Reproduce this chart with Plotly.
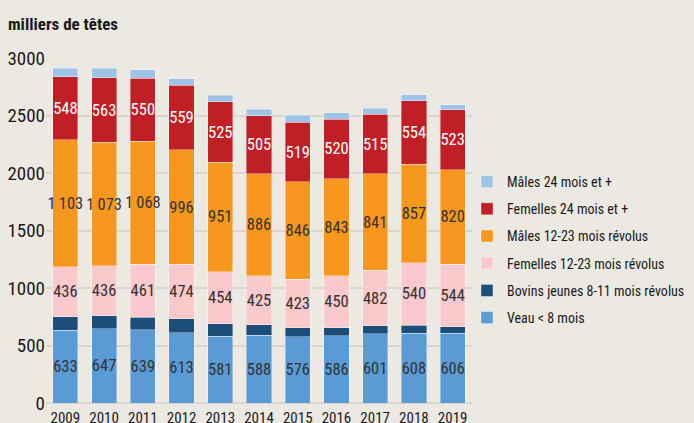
import plotly.graph_objects as go

# ------------------------------------------------------------------
# DATA
# ------------------------------------------------------------------
years = ['2009', '2010', '2011', '2012', '2013', '2014', '2015', '2016', '2017', '2018', '2019']

veau = [633, 647, 639, 613, 581, 588, 576, 586, 601, 608, 606]
bovins_jeunes = [116, 110, 107, 119, 107, 94, 78, 70, 70, 70, 58]
femelles_12_23 = [436, 436, 461, 474, 454, 425, 423, 450, 482, 540, 544]
males_12_23 = [1103, 1073, 1068, 996, 951, 886, 846, 843, 841, 857, 820]
femelles_24 = [548, 563, 550, 559, 525, 505, 519, 520, 515, 554, 523]
males_24 = [75, 84, 73, 58, 58, 55, 61, 55, 52, 52, 44]

y_ticks = [0, 500, 1000, 1500, 2000, 2500, 3000]

font_narrow = 'Roboto Condensed, Liberation Sans Narrow, sans-serif'


def fmt(values):
    return ['{:,}'.format(v).replace(',', '\u2009') for v in values]


# bottom to top
series = [
    ('Veau < 8 mois', veau, '#5B9BD5', '#333333', True),
    ('Bovins jeunes 8-11 mois révolus', bovins_jeunes, '#1D4E79', '#333333', False),
    ('Femelles 12-23 mois révolus', femelles_12_23, '#F9C9CB', '#333333', True),
    ('Mâles 12-23 mois révolus', males_12_23, '#F7971E', '#333333', True),
    ('Femelles 24 mois et +', femelles_24, '#C11F26', '#FFFFFF', True),
    ('Mâles 24 mois et +', males_24, '#9DC3E6', '#333333', False),
]

fig = go.Figure()

for i, (name, vals, color, txtcolor, labelled) in enumerate(series):
    fig.add_trace(go.Bar(
        x=years,
        y=vals,
        name=name,
        legendgroup='g%d' % i,
        legendrank=100 - i * 10,
        marker=dict(color=color, line=dict(color='rgba(255,255,255,0.45)', width=0.8)),
        text=fmt(vals) if labelled else None,
        textposition='inside' if labelled else 'none',
        insidetextanchor='middle',
        textangle=0,
        constraintext='none',
        textfont=dict(family=font_narrow, size=16.5, color=txtcolor),
        hoverinfo='x+y+name',
    ))

# bottom margin 0 (keeps legend auto-margin padding at 0), plot bottom set by the y domain
paper_h = 423 - 58
fig.update_layout(
    width=694,
    height=423,
    barmode='stack',
    bargap=0.35,
    paper_bgcolor='#ECE9E3',
    plot_bgcolor='#ECE9E3',
    margin=dict(l=46, r=222, t=58, b=0),
    font=dict(family=font_narrow, color='#1A1A1A'),
    legend=dict(
        x=1 - 5 / 426,
        xanchor='left',
        y=1 - 108 / paper_h,
        yanchor='top',
        traceorder='grouped',
        tracegroupgap=6,
        font=dict(family=font_narrow, size=14, color='#1A1A1A'),
        bgcolor='rgba(0,0,0,0)',
    ),
    showlegend=True,
    annotations=[dict(
        text='<b>milliers de têtes</b>',
        xref='paper', yref='paper',
        x=-40 / 426, y=1 + 34 / paper_h,
        xanchor='left', yanchor='middle',
        showarrow=False,
        font=dict(family=font_narrow, size=17, color='#1A1A1A'),
    )],
)

fig.update_xaxes(
    tickfont=dict(family=font_narrow, size=15, color='#1A1A1A'),
    tickangle=0,
    showgrid=False,
    ticks='',
    ticklabelstandoff=4,
    automargin=False,
)

fig.update_yaxes(
    range=[0, 3000],
    domain=[20 / paper_h, 1],
    tickvals=y_ticks,
    tickfont=dict(family=font_narrow, size=19, color='#1A1A1A'),
    gridcolor='#D9D6D0',
    gridwidth=1.5,
    zeroline=True,
    zerolinecolor='#D9D6D0',
    zerolinewidth=1.5,
    ticks='',
    automargin=False,
)

# page body has a default 8px margin: remove it so the figure sits at the corner
fig.write_html("out.html", config={'displayModeBar': False},
               post_script="document.body.style.margin='0';")
